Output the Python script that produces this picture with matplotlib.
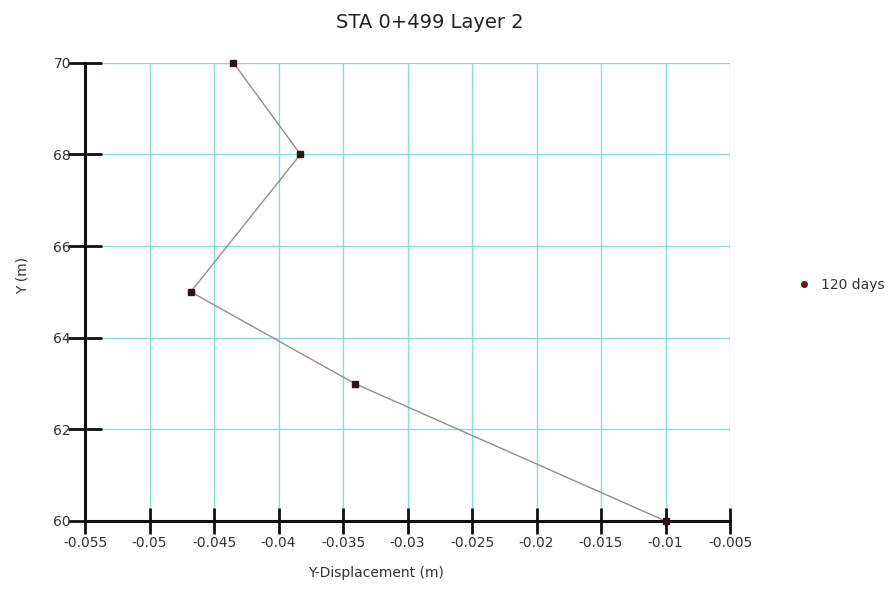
import matplotlib
matplotlib.use("Agg")
import matplotlib.pyplot as plt
from matplotlib.lines import Line2D

# Displacement profile at 120 days
displacement = [-0.0435, -0.0383, -0.0468, -0.0341, -0.0100]
elevation = [70, 68, 65, 63, 60]
series_label = "120 days"
x_ticks = [-0.055, -0.05, -0.045, -0.04, -0.035, -0.03, -0.025, -0.02, -0.015, -0.01, -0.005]
x_tick_labels = ["-0.055", "-0.05", "-0.045", "-0.04", "-0.035", "-0.03", "-0.025", "-0.02", "-0.015", "-0.01", "-0.005"]
y_ticks = [60, 62, 64, 66, 68, 70]

plt.rcParams['font.family'] = ['DejaVu Sans']

W, H = 892, 598
fig = plt.figure(figsize=(W / 100, H / 100), dpi=100)
ax = fig.add_axes([85 / W, 1 - 521 / H, (730 - 85) / W, (521 - 62.7) / H])

ax.plot(displacement, elevation, color="#9a8a8a", lw=1.0, zorder=3, clip_on=False)
ax.plot(displacement, elevation, ls="none", marker="s", ms=4.5,
        color="#2a1414", zorder=6, clip_on=False)

ax.set_xlim(-0.055, -0.005)
ax.set_ylim(60, 70)
ax.set_xticks(x_ticks)
ax.set_xticklabels(x_tick_labels)
ax.set_yticks(y_ticks)

ax.grid(True, color="#8adbe0", lw=1.0, zorder=0)
ax.set_axisbelow(True)
for side in ("top", "right"):
    ax.spines[side].set_visible(False)
for side in ("left", "bottom"):
    ax.spines[side].set_linewidth(2.2)
    ax.spines[side].set_color("#111111")
    ax.spines[side].set_zorder(5)

ax.tick_params(axis="both", direction="inout", width=2.0,
               color="#111111", labelsize=10, labelcolor="#333333")
ax.tick_params(axis="x", length=19, pad=1)
ax.tick_params(axis="y", length=24, pad=-2)

fig.text(376 / W, 1 - 573 / H, "Y-Displacement (m)", fontsize=10,
         color="#333333", ha="center", va="center")
fig.text(23 / W, 1 - 275 / H, "Y (m)", fontsize=10, color="#333333",
         ha="center", va="center", rotation=90)
fig.text(430 / W, 1 - 22 / H, "STA 0+499 Layer 2", fontsize=14,
         color="#222222", ha="center", va="center")

handle = Line2D([], [], ls="none", marker="o", ms=4, color="#5a1a1a")
fig.legend([handle], [series_label], loc="center left",
           bbox_to_anchor=(797 / W, 1 - 285 / H), frameon=False, fontsize=10,
           handletextpad=0.7, handlelength=1.0, borderaxespad=0,
           borderpad=0, labelcolor="#333333")

fig.savefig("out.png", dpi=100)
